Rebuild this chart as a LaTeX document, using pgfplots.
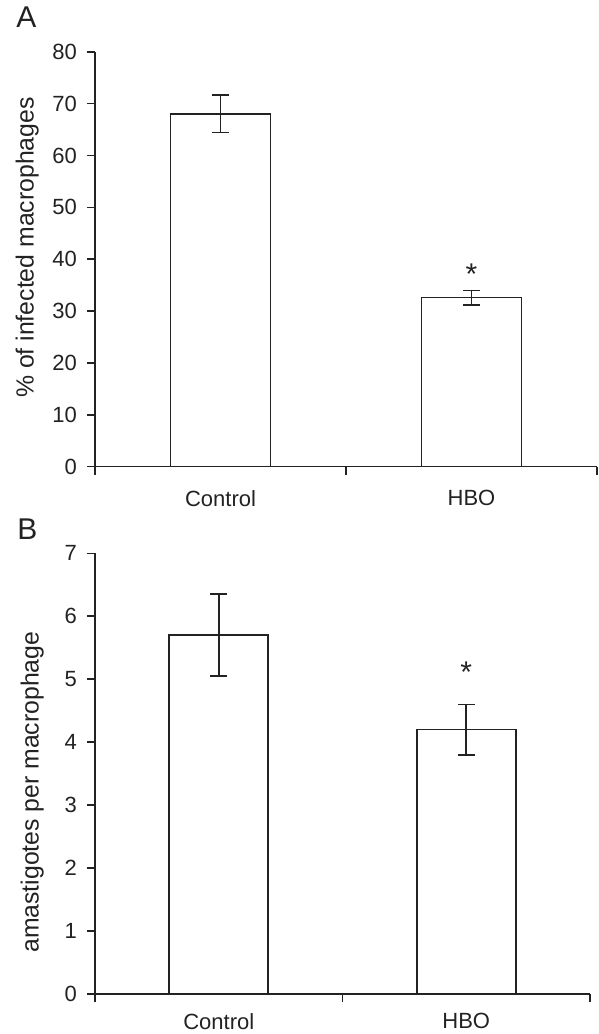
\documentclass[border=0pt]{standalone}
\usepackage{fontspec}
\setmainfont{Liberation Sans}
\usepackage{pgfplots}
\pgfplotsset{compat=1.18}
\definecolor{ink}{HTML}{222222}

\pgfplotsset{
  panel/.style={
    scale only axis, anchor=south west,
    axis x line=bottom, axis y line=left,
    axis line style={-, draw=ink, line width=0.8pt},
    tick align=outside, major tick length=4pt,
    tick style={draw=ink, line width=0.8pt},
    xmin=-0.5, xmax=1.5, ymin=0,
    xtick={-0.5,0.5,1.5}, xticklabels={},
    extra x ticks={0,1}, extra x tick labels={Control,HBO},
    extra x tick style={major tick length=0pt},
    ticklabel style={font=\fontsize{11}{12}\selectfont, text=ink},
    yticklabel style={xshift=-1.5pt},
    xticklabel style={inner sep=0pt},
    /pgf/number format/assume math mode=true,
    ylabel style={font=\fontsize{12.4}{14}\selectfont, text=ink, anchor=center},
  },
  bar/.style={ybar, draw=ink, fill=white, line width=0.8pt,
    error bars/.cd, y dir=both, y explicit,
    error bar style={line width=0.8pt, draw=ink},
    error mark options={rotate=90, mark size=4.2pt, line width=0.8pt, draw=ink},
    /pgfplots/.cd},
}

\begin{document}
\begin{tikzpicture}
\path[use as bounding box] (0,0) rectangle (299.5pt,517pt);

% panel A
\node[anchor=base west, inner sep=0, font=\fontsize{15}{16}\selectfont, text=ink] at (8pt,503pt) {A};
\begin{axis}[panel, at={(47.5pt,283.65pt)}, width=251pt, height=207.5pt,
  ymax=80, ytick distance=10,
  xticklabel style={yshift=-11.5pt},
  ylabel={\% of infected macrophages},
  ylabel style={at={(axis description cs:-0.135,0.528)}}]
\addplot[bar width=50pt, bar] coordinates {
  (0,68.0) +- (0,3.6)
  (1,32.6) +- (0,1.4)
};
\node[anchor=base, inner sep=0, font=\fontsize{15}{15}\selectfont, text=ink] at (axis cs:1,35.2) {*};
\end{axis}

% panel B
\node[anchor=base west, inner sep=0, font=\fontsize{15}{16}\selectfont, text=ink] at (8.5pt,247pt) {B};
\begin{axis}[panel, at={(47.5pt,20pt)}, width=247.5pt, height=220.35pt,
  ymax=7, ytick distance=1,
  xticklabel style={yshift=-9.5pt},
  ylabel={amastigotes per macrophage},
  ylabel style={at={(axis description cs:-0.127,0.458)}}]
\addplot[bar width=49.5pt, bar] coordinates {
  (0,5.70) +- (0,0.65)
  (1,4.20) +- (0,0.40)
};
\node[anchor=base, inner sep=0, font=\fontsize{15}{15}\selectfont, text=ink] at (axis cs:1,4.95) {*};
\end{axis}
\end{tikzpicture}
\end{document}
